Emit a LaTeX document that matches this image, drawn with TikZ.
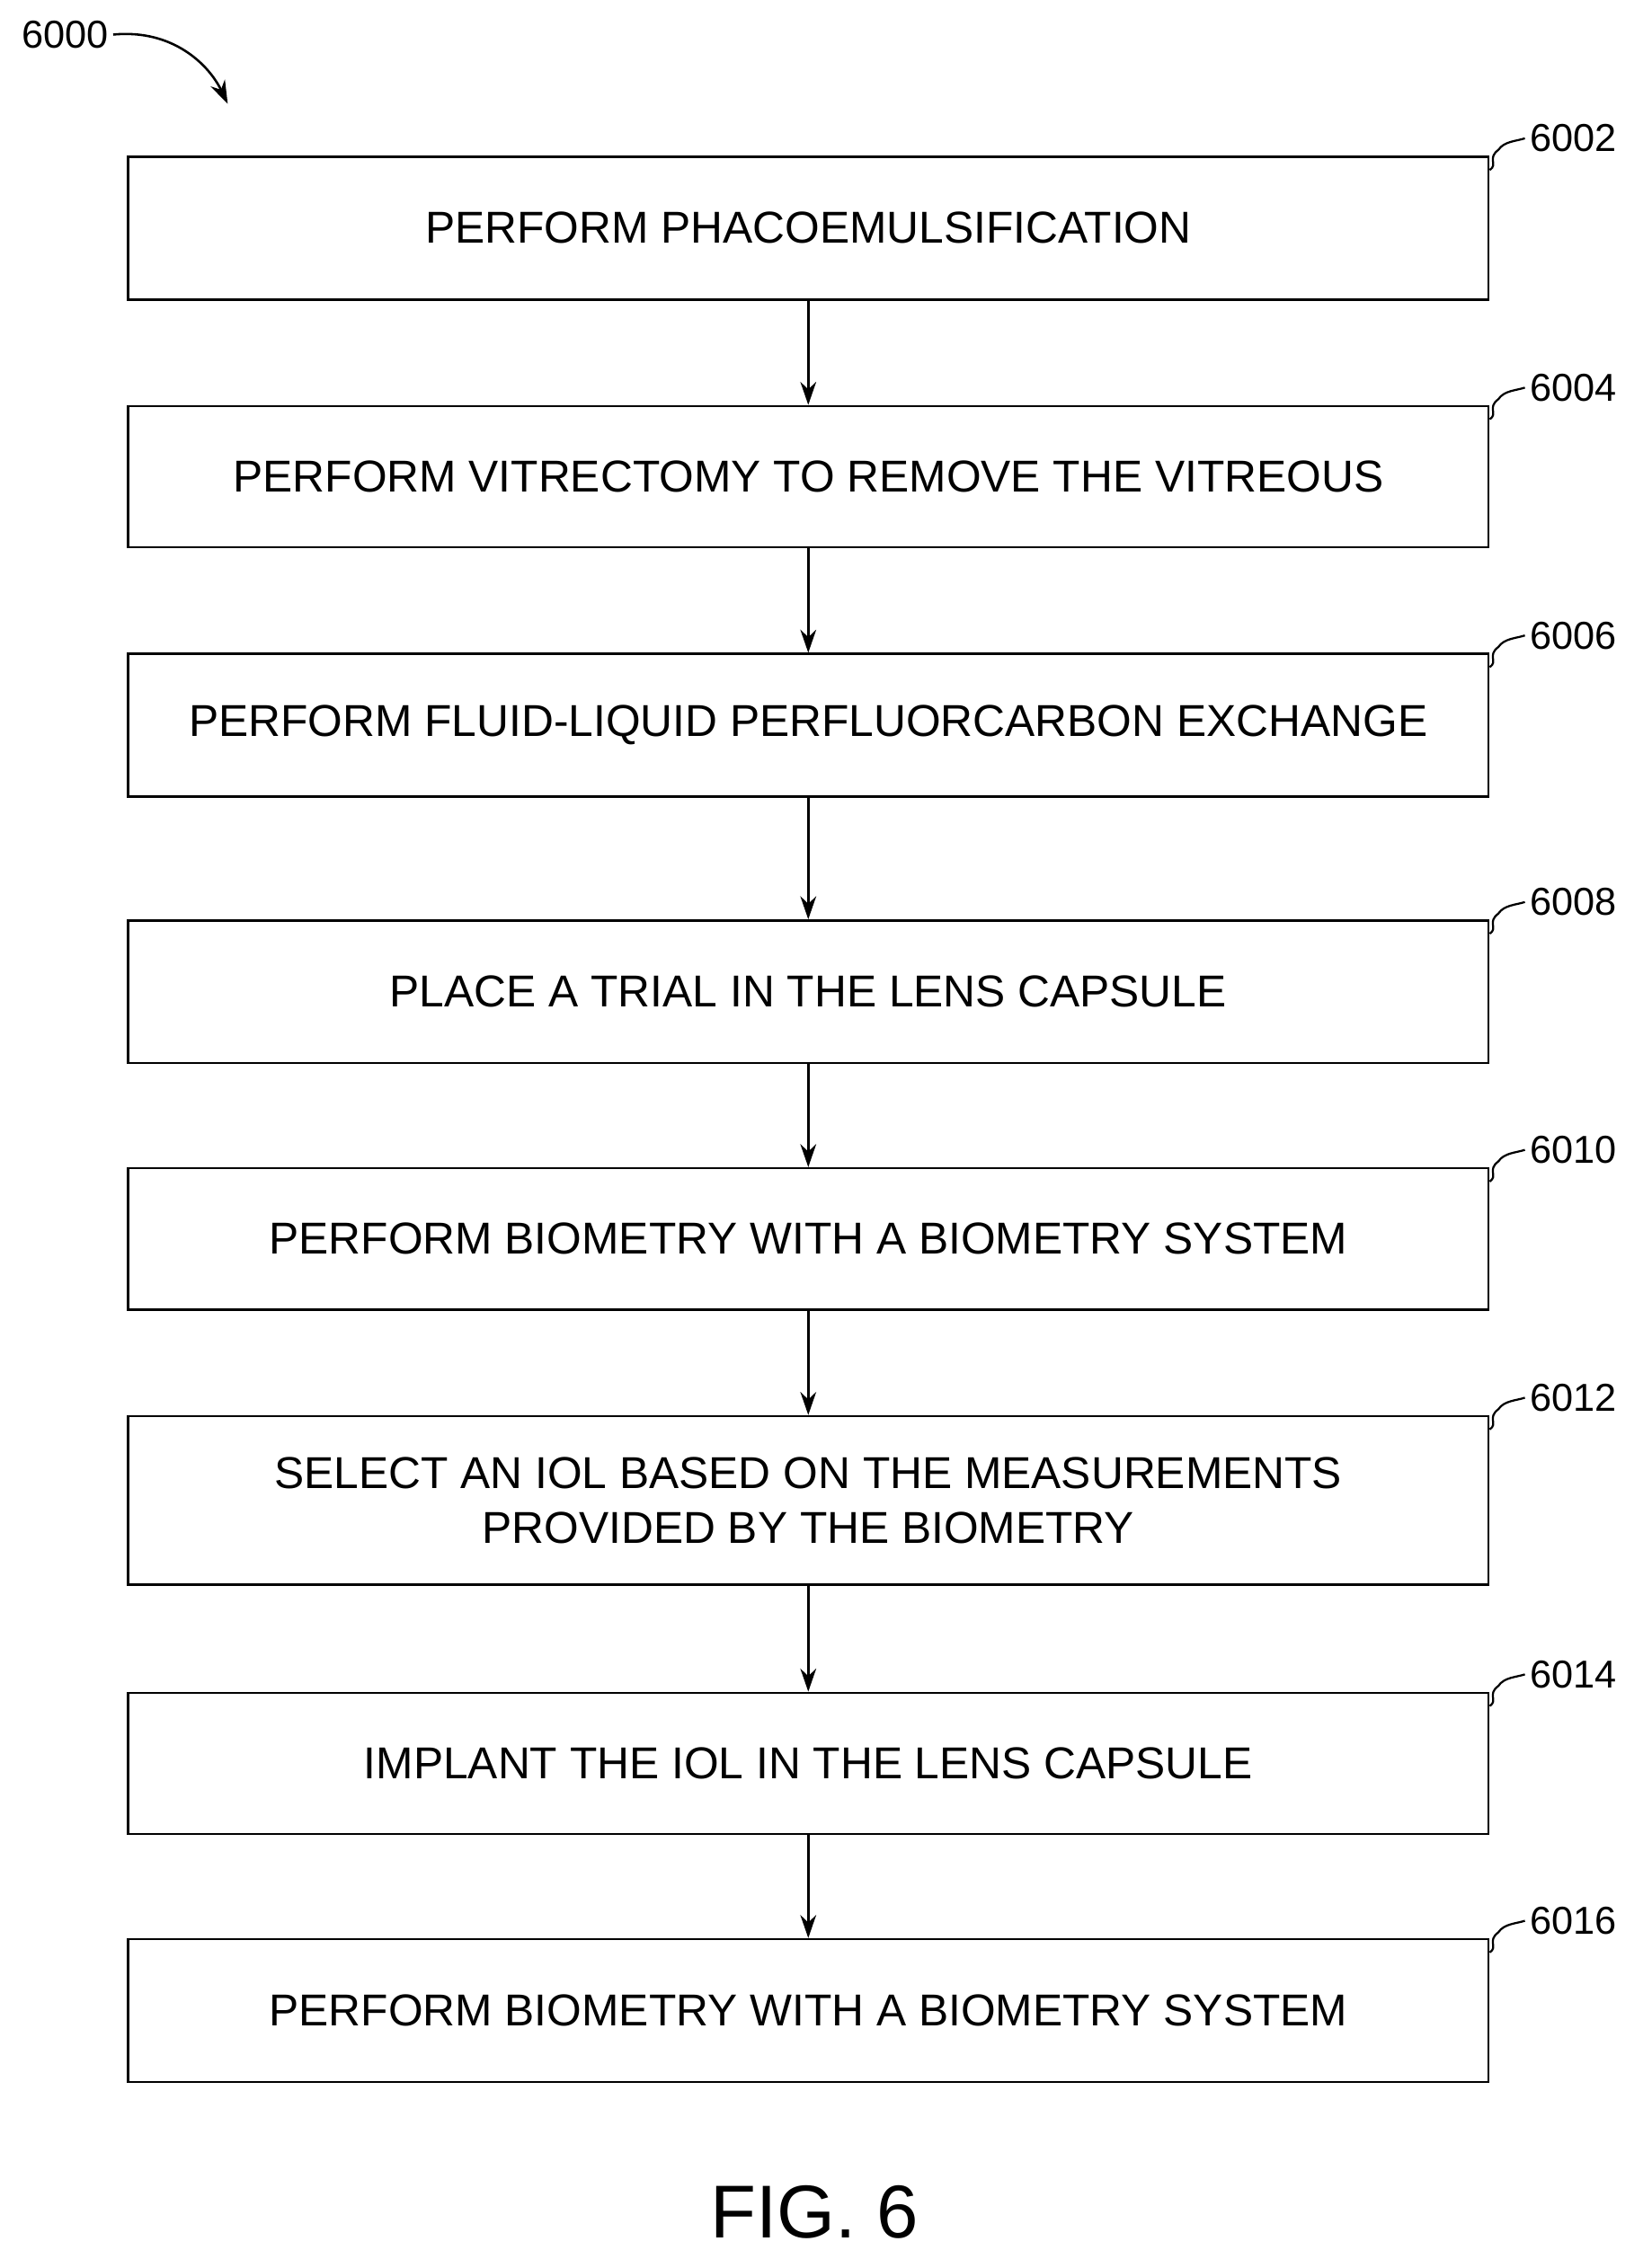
\documentclass[tikz,border=0pt]{standalone}
\usepackage{fontspec}
\setmainfont{Liberation Sans}
\usetikzlibrary{arrows.meta}
\begin{document}
\begin{tikzpicture}[x=1pt,y=-1pt,
  box/.style={draw,line width=1.6pt,minimum width=944pt,anchor=north west,inner sep=0pt,align=center,font=\fontsize{31}{38}\selectfont},
  ref/.style={font=\fontsize{27}{30}\selectfont,anchor=west},
  arr/.style={line width=1.6pt,-{Stealth[length=16pt,width=11pt]}}]
\useasboundingbox (0,0) rectangle (1146,1574);
\def\mkbox#1#2#3#4#5{%
  \node[box,minimum height=#3] (#1) at (88,#2) {#4};
  \node[ref] (#1l) at (1058,#2-12) {#5};
  \draw[line width=1.4pt] (#1.north east) ++(0,10) .. controls +(6,-4) and +(-8,6) .. ++(6,-14) .. controls +(4,-6) and +(-6,2) .. (#1l.west);}
\mkbox{b1}{108}{99pt}{PERFORM PHACOEMULSIFICATION}{6002}
\mkbox{b2}{281}{98pt}{PERFORM VITRECTOMY TO REMOVE THE VITREOUS}{6004}
\mkbox{b3}{453}{99pt}{PERFORM FLUID-LIQUID PERFLUORCARBON EXCHANGE}{6006}
\mkbox{b4}{638}{99pt}{PLACE A TRIAL IN THE LENS CAPSULE}{6008}
\mkbox{b5}{810}{98pt}{PERFORM BIOMETRY WITH A BIOMETRY SYSTEM}{6010}
\mkbox{b6}{982}{117pt}{SELECT AN IOL BASED ON THE MEASUREMENTS\\PROVIDED BY THE BIOMETRY}{6012}
\mkbox{b7}{1174}{98pt}{IMPLANT THE IOL IN THE LENS CAPSULE}{6014}
\mkbox{b8}{1345}{99pt}{PERFORM BIOMETRY WITH A BIOMETRY SYSTEM}{6016}
\foreach \a/\b in {b1/b2,b2/b3,b3/b4,b4/b5,b5/b6,b6/b7,b7/b8}
  \draw[arr] (\a.south) -- (\b.north);
\node[font=\fontsize{27}{30}\selectfont] (t) at (45,24) {6000};
\coordinate (te) at (158,72);
\draw[arr] (t.east) .. controls (120,20) and (145,45) .. (te);
\node[font=\fontsize{52}{56}\selectfont] (fig) at (565,1535) {FIG. 6};
\end{tikzpicture}
\end{document}
